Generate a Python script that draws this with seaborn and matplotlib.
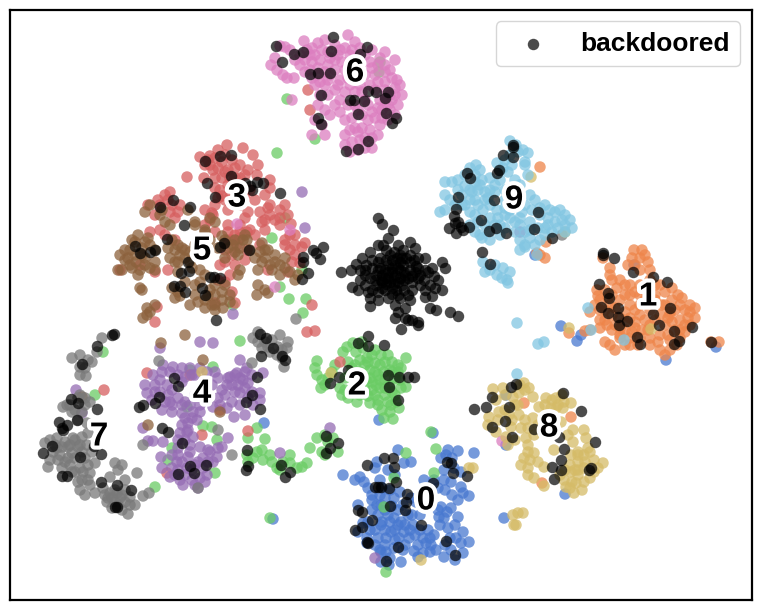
import pandas as pd
import matplotlib
matplotlib.use('Agg')
import matplotlib.pyplot as plt
import matplotlib.patheffects as pe
import seaborn as sns

# embedding coordinates, one list per class
pts_0 = [(448,450),(458,451),(441,458),(444,470),(454,468),(461,472),(474,453),(398,450),(411,462),(404,463),(424,480),(434,480),(451,482),(461,487),(463,493),(469,496),(441,507),(451,508),(458,517),(439,517),(448,528),(434,535),(463,532),(469,542),(461,543),(463,553),(444,557),(436,550),(423,553),(414,551),(423,538),(431,545),(413,525),(404,532),(399,538),(394,548),(401,562),(389,565),(381,562),(381,552),(386,538),(394,518),(403,505),(411,498),(394,498),(388,515),(381,525),(381,505),(444,518),(456,538),(451,550),(416,502),(401,522),(408,515),(409,538),(391,532),(386,552),(426,543),(360,477),(355,480),(368,488),(377,505),(358,505),(368,522),(363,523),(382,522),(380,550),(375,468),(377,462),(382,488),(358,532),(367,538),(367,543),(372,510),(390,490),(395,530),(375,530),(264,423),(343,475),(273,519),(379,420),(504,518),(506,395),(506,445),(565,494),(433,433),(561,326),(581,335),(577,341),(666,360),(716,347),(634,265),(535,255),
    (385,510),(390,522),(398,510),(398,525),(405,525),(412,515),(385,530),(378,515),(372,500),(385,498),(400,492),(380,480),(372,495),(370,530),(395,540),(405,545),(418,545),(430,538),(440,525),(455,525),(450,538),(445,545),(438,510),(447,512),(452,495),(445,490),(438,488),(428,530),(420,515),(415,535),(403,550),(390,558),(375,545),(385,545),(455,560),(430,552),(444,480),(452,458),(446,455),(418,557),(458,500),(392,506),(378,538),(420,530),(410,530),(395,475),(388,470),(364,482),(380,495)]
pts_1 = [(634,250),(640,258),(645,255),(648,262),(635,265),(628,265),(650,270),(610,268),(597,290),(600,300),(605,310),(612,280),(610,275),(617,288),(620,280),(625,295),(630,285),(640,285),(650,280),(655,285),(660,285),(672,288),(665,292),(678,295),(680,305),(685,310),(690,312),(695,318),(655,300),(650,310),(640,305),(630,305),(620,300),(608,298),(595,305),(590,312),(600,320),(612,315),(620,318),(630,318),(640,315),(625,330),(630,338),(638,345),(625,345),(610,345),(615,350),(605,342),(655,320),(665,325),(660,335),(670,340),(660,350),(665,355),(650,345),(675,330),(680,320),(690,325),(685,332),(670,312),(677,345),(670,315),(648,330),(642,330),(635,328),(620,328),(600,328),(590,330),(607,325),(630,295),(640,295),(615,308),(662,305),(672,300),(695,308),(719,342),(711,342),(569,333),(585,331),(603,258),(540,167),(546,242),(540,255),(545,258),(537,253),(542,483),(571,417),(524,403),
    (605,290),(612,295),(625,285),(635,292),(645,290),(645,300),(635,310),(625,312),(610,305),(600,310),(605,320),(615,325),(625,322),(635,322),(645,320),(650,325),(660,315),(668,318),(675,310),(682,298),(688,318),(680,330),(672,322),(668,335),(658,342),(632,332),(640,338),(630,345),(620,338),(612,330),(598,296),(640,270),(632,258),(642,250),(655,295),(665,305),(685,325),(670,350),(620,335),(650,338),(680,338),(690,305)]
pts_2 = [(347,347),(353,343),(343,352),(363,348),(367,358),(375,363),(317,361),(315,368),(317,375),(322,380),(321,388),(325,385),(342,395),(348,398),(357,402),(370,403),(378,405),(381,355),(388,355),(398,365),(406,358),(401,368),(384,372),(401,388),(399,408),(393,419),(384,418),(391,405),(406,387),(360,360),(370,370),(380,380),(390,385),(385,395),(375,395),(365,390),(360,385),(350,375),(355,365),(375,350),(392,372),(380,365),(372,382),(395,395),(248,438),(247,455),(248,462),(257,452),(263,460),(272,462),(277,468),(283,462),(290,463),(297,468),(302,467),(307,463),(265,439),(257,428),(310,448),(317,438),(322,452),(328,442),(338,452),(325,435),(333,438),(325,455),(253,458),(240,341),(103,352),(95,395),(203,426),(212,427),(217,440),(172,448),(168,460),(215,473),(155,487),(190,370),(213,367),(187,407),(270,518),(277,153),(272,238),(302,270),(280,287),(289,299),(306,299),(285,218),(233,305),(303,313),(431,432),(406,453),(436,449),(434,473),(394,478),(384,507),(386,572),(287,99),(315,139),(380,62),(379,72),
    (372,355),(365,365),(375,372),(385,362),(392,362),(370,378),(378,375),(385,380),(395,378),(400,380),(380,388),(372,390),(385,388),(392,392),(378,400),(368,396),(388,402),(382,410),(390,412),(396,402),(360,372),(352,368),(345,378),(340,388),(345,390),(352,392),(360,395),(368,362),(356,352),(362,342),(348,362),(335,365),(328,378),(332,372),(390,370),(398,372),(376,385),(366,380),(270,455),(280,470),(290,455),(262,450)]
pts_3 = [(227,145),(243,148),(210,156),(218,150),(200,157),(205,165),(213,170),(222,162),(232,160),(240,165),(253,155),(258,165),(248,170),(225,172),(215,178),(235,178),(245,175),(220,190),(228,185),(240,188),(225,200),(215,205),(187,177),(204,178),(257,175),(270,180),(270,188),(265,195),(250,190),(255,200),(270,205),(285,205),(268,208),(288,215),(280,218),(275,220),(291,224),(285,245),(302,247),(295,255),(305,243),(295,235),(290,235),(262,222),(265,220),(245,218),(240,225),(228,225),(213,215),(205,210),(210,220),(215,232),(165,195),(158,200),(148,205),(170,192),(170,212),(175,218),(180,205),(160,230),(165,235),(205,225),(212,213),(255,235),(247,232),(237,245),(240,238),(250,230),(265,230),(260,245),(247,250),(245,260),(235,265),(225,250),(220,265),(228,240),(285,240),(292,262),(288,272),(300,263),(268,270),(218,280),(230,275),(225,282),(232,292),(120,270),(140,265),(155,272),(150,232),(175,240),(157,307),(155,322),(315,331),(307,332),(235,303),(215,303),(312,305),(168,270),(147,373),(190,375),(202,435),(248,431),(167,473),(220,410),(308,90),(310,110),(340,362),(104,390),
    (208,160),(215,158),(225,155),(235,168),(228,170),(218,168),(210,165),(222,178),(230,178),(240,178),(215,188),(222,196),(230,192),(235,198),(218,198),(228,210),(240,205),(245,195),(160,205),(168,200),(155,215),(172,205),(178,212),(240,232),(232,240),(235,235),(228,232),(270,215),(260,212),(280,210),(295,245),(290,250),(280,225),(225,262),(232,255),(248,212)]
pts_4 = [(163,365),(173,367),(182,368),(200,368),(207,372),(218,378),(212,385),(153,375),(160,380),(167,385),(145,385),(147,393),(152,400),(162,410),(170,402),(172,412),(182,413),(193,412),(200,412),(197,420),(188,423),(185,402),(182,382),(185,377),(227,385),(230,377),(237,373),(247,368),(248,383),(243,380),(240,393),(260,393),(260,400),(253,405),(245,415),(234,417),(227,408),(218,398),(213,407),(263,373),(240,360),(200,342),(213,343),(233,314),(160,348),(148,441),(153,441),(163,442),(143,428),(180,433),(187,432),(193,437),(190,445),(200,447),(208,450),(217,457),(218,448),(228,438),(188,457),(177,462),(172,468),(170,477),(180,480),(192,480),(183,485),(207,475),(203,468),(203,458),(213,462),(162,468),(161,457),(198,488),(187,468),(222,447),(280,453),(330,428),(82,413),(76,390),(375,558),(302,192),(305,228),(235,375),(192,375),(172,390),(195,395),(225,395),(238,385),(520,232),(178,455),(195,465),
    (170,372),(178,375),(190,368),(195,375),(205,380),(215,372),(162,372),(155,385),(160,392),(168,395),(178,398),(172,405),(165,402),(155,392),(232,385),(240,378),(245,372),(235,392),(228,378),(245,388),(252,392),(248,398),(240,405),(232,402),(222,390),(252,375),(185,418),(192,418),(188,430),(182,425),(178,440),(185,440),(190,452),(178,448),(172,455),(182,462),(178,470),(185,475),(192,470),(200,478),(175,475),(198,462),(208,462),(205,482),(195,485),(210,452),(182,405),(190,405),(200,405),(205,390),(220,405)]
pts_5 = [(150,205),(145,212),(162,210),(132,240),(138,235),(148,238),(150,245),(142,248),(130,250),(120,255),(125,260),(135,255),(145,258),(155,250),(122,270),(130,265),(140,270),(155,270),(145,265),(118,270),(172,240),(175,250),(180,255),(170,258),(185,250),(195,245),(205,232),(170,225),(195,225),(205,230),(225,240),(233,245),(243,240),(215,222),(218,248),(225,258),(235,252),(245,235),(247,240),(255,258),(265,250),(262,243),(275,255),(280,265),(272,270),(285,268),(295,280),(298,275),(190,262),(178,272),(185,282),(195,285),(172,288),(178,292),(180,296),(140,288),(142,290),(178,262),(200,270),(205,275),(210,290),(215,295),(225,285),(230,295),(238,275),(240,270),(257,295),(258,285),(265,290),(268,293),(205,300),(195,295),(190,305),(175,298),(212,305),(222,300),(230,302),(150,312),(147,308),(143,318),(155,305),(147,315),(223,308),(215,305),(165,222),(160,215),(188,210),(210,218),(195,222),(238,255),(250,250),(161,343),(185,335),(203,360),(148,425),(220,412),(82,397),
    (128,258),(136,262),(142,255),(125,250),(135,242),(145,242),(155,262),(150,268),(132,268),(138,275),(175,262),(182,248),(190,252),(178,245),(168,248),(185,258),(192,268),(200,282),(208,296),(215,285),(222,292),(215,310),(205,308),(198,302),(265,258),(270,265),(262,262),(258,270),(275,262),(285,258),(290,272),(280,275),(268,250),(260,252),(235,240),(228,248),(240,248),(210,240),(222,236)]
pts_6 = [(271,65),(275,58),(280,46),(285,47),(290,50),(277,70),(283,75),(287,78),(294,78),(304,41),(300,55),(305,60),(310,55),(318,43),(325,40),(335,45),(348,35),(355,42),(360,48),(365,55),(372,50),(380,58),(385,65),(390,70),(397,80),(400,85),(402,95),(398,105),(395,115),(388,120),(380,125),(370,130),(360,140),(350,152),(358,150),(345,135),(350,130),(365,148),(372,148),(378,135),(362,128),(372,112),(365,100),(355,105),(340,100),(335,90),(325,85),(318,75),(310,70),(305,72),(315,85),(320,95),(325,110),(330,115),(340,112),(345,120),(322,125),(325,135),(315,120),(312,135),(318,105),(328,65),(335,60),(345,70),(350,55),(340,50),(328,52),(320,60),(312,62),(300,65),(295,60),(375,75),(385,82),(390,95),(380,100),(375,90),(365,75),(360,85),(350,85),(340,80),(330,75),(345,92),(395,60),(385,52),(392,100),(382,110),(362,115),(352,118),(370,62),(360,65),(292,100),(237,224),(290,230),(275,287),(502,441),
    (315,55),(322,50),(330,58),(338,55),(345,48),(352,50),(358,58),(318,68),(325,72),(335,70),(342,62),(350,62),(312,78),(320,82),(328,80),(338,85),(348,78),(355,92),(362,92),(370,85),(378,82),(385,72),(392,78),(395,88),(385,90),(395,95),(372,68),(378,65),(368,105),(378,108),(388,105),(385,100),(375,118),(368,120),(358,110),(348,105),(335,105),(328,95),(355,128),(365,138),(372,138),(352,142),(358,132),(345,145),(382,118),(390,110),(312,48),(307,50)]
pts_7 = [(102,338),(97,352),(72,358),(80,355),(88,360),(80,367),(80,375),(86,376),(92,362),(85,368),(67,405),(78,398),(85,405),(90,402),(72,412),(78,420),(87,423),(63,407),(45,443),(50,440),(57,438),(65,442),(73,438),(82,437),(88,433),(53,452),(50,460),(58,460),(65,462),(72,453),(78,447),(87,445),(92,452),(48,467),(70,465),(80,468),(88,465),(95,463),(83,472),(90,473),(75,472),(62,447),(68,447),(57,448),(115,463),(122,465),(118,470),(110,477),(137,473),(82,480),(90,485),(80,490),(85,495),(95,493),(103,488),(125,480),(110,493),(107,502),(115,502),(122,495),(125,502),(135,505),(128,514),(112,508),(143,496),(149,493),(130,497),(117,493),(258,332),(253,338),(265,342),(280,335),(288,342),(287,348),(278,347),(270,352),(284,367),(262,348),(282,358),(277,355),(159,361),(252,363),(218,430),(232,455),(143,445),(198,488),(562,235),(296,319),
    (70,445),(60,455),(68,458),(75,458),(82,452),(85,458),(62,468),(72,472),(55,445),(80,445),(75,440),(70,405),(75,410),(82,412),(80,395),(85,398),(120,498),(112,498),(118,505),(125,490),(108,498),(115,490),(130,505),(122,510),(105,495),(258,342),(268,347),(272,340),(282,350),(88,480),(78,482)]
pts_8 = [(493,389),(503,388),(524,383),(529,388),(533,397),(519,393),(513,397),(518,405),(496,400),(489,417),(499,412),(488,425),(496,432),(509,415),(519,415),(511,427),(521,428),(506,437),(526,438),(528,445),(533,418),(534,435),(539,407),(546,398),(556,398),(564,402),(571,403),(551,408),(563,408),(573,430),(568,435),(573,442),(584,430),(586,438),(588,448),(554,450),(534,453),(524,458),(521,465),(528,468),(528,475),(534,478),(538,462),(544,467),(564,480),(571,472),(578,462),(584,455),(594,460),(603,463),(594,472),(584,482),(578,475),(576,483),(574,493),(566,487),(584,468),(571,455),(578,452),(518,513),(523,513),(513,515),(514,525),(516,525),(473,468),(469,468),(421,560),(544,486),(561,422),(531,177),(565,232),(651,329),(569,328),(331,373),(202,372),
    (552,400),(558,405),(545,405),(525,390),(520,385),(505,395),(498,420),(505,410),(512,420),(525,420),(528,428),(538,425),(508,445),(515,440),(530,460),(528,452),(590,452),(585,462),(598,468),(590,478),(578,470),(570,465),(565,470),(572,482),(582,490),(570,488),(560,475),(578,455),(556,408),(515,405),(562,395),(575,470)]
pts_9 = [(510,141),(516,145),(523,150),(528,153),(525,162),(510,155),(505,160),(497,163),(500,170),(525,165),(508,172),(503,168),(476,165),(480,170),(470,168),(465,175),(445,182),(452,182),(458,180),(465,186),(475,175),(480,185),(490,178),(495,185),(500,180),(505,190),(515,180),(528,175),(472,192),(462,195),(445,195),(450,200),(455,205),(440,212),(445,210),(465,205),(475,200),(485,200),(490,190),(483,210),(475,215),(497,210),(490,205),(505,215),(510,218),(530,195),(535,200),(545,205),(550,210),(540,215),(530,222),(522,212),(515,205),(555,212),(565,215),(570,220),(565,225),(560,210),(555,222),(548,218),(572,228),(565,232),(552,232),(545,235),(540,240),(530,238),(520,225),(515,232),(505,228),(475,232),(470,225),(480,235),(490,240),(500,235),(520,240),(535,245),(525,245),(495,225),(485,225),(515,195),(505,200),(483,262),(490,270),(495,265),(503,268),(497,275),(485,272),(502,278),(510,272),(508,283),(507,280),(520,250),(525,247),(537,255),(517,323),(538,344),(544,342),(517,374),(591,330),(588,308),(624,340),
    (470,190),(478,190),(485,192),(482,180),(495,192),(488,198),(478,205),(470,200),(462,205),(470,212),(478,222),(490,218),(498,218),(505,208),(510,210),(525,205),(532,210),(520,218),(540,208),(548,225),(558,228),(538,228),(530,230),(525,232),(545,228),(562,220),(490,230),(482,238),(500,225),(515,222),(512,190),(520,185),(518,152),(512,165),(475,182),(458,190)]

backdoored = [(276,46),(294,54),(303,52),(331,51),(333,37),(367,47),(360,54),(282,62),(310,74),(318,73),(330,73),(321,95),(354,100),(350,100),(364,101),(376,92),(368,91),(358,114),(318,118),(321,124),(346,151),(358,149),(368,141),(388,92),(385,98),(386,113),(396,118),(392,123),
    (205,161),(220,156),(231,155),(231,176),(207,183),(245,183),(250,186),(257,182),(263,183),(252,190),(215,197),(280,193),(173,200),(190,207),(160,207),(184,225),(167,239),(135,246),(155,250),(140,253),(150,252),(220,247),(224,243),(249,250),(188,262),(181,273),(189,271),(214,277),(220,278),(210,277),(174,286),(180,286),(185,292),(202,288),(205,295),(303,257),(313,250),(323,247),(316,253),(320,259),(303,262),(308,273),(302,279),(216,320),
    (378,218),(382,224),(393,230),(388,238),(378,245),(383,245),(398,245),(403,250),(410,242),(415,248),(400,255),(390,255),(380,258),(370,252),(362,258),(356,264),(351,270),(360,270),(365,275),(372,268),(380,268),(388,265),(395,265),(403,265),(410,262),(418,258),(425,258),(432,268),(442,262),(425,270),(415,272),(405,275),(395,275),(385,278),(375,280),(365,285),(352,287),(358,290),(372,290),(382,288),(392,288),(402,285),(412,282),(420,285),(430,285),(438,280),(445,268),(408,295),(398,295),(388,298),(378,300),(370,298),(395,305),(405,308),(398,312),(405,318),(412,320),(418,322),(395,318),(430,308),(450,312),(458,316),(432,296),(442,290),(410,300),(425,297),(400,270),(392,272),(398,282),(404,280),(390,282),(410,270),(388,272),(382,275),(378,270),(412,276),(400,262),(392,260),(386,284),(394,284),(376,275),(420,275),(386,260),(406,258),(397,258),(416,266),(404,290),(396,290),(366,265),(434,276),(370,306),(381,280),(401,329),(418,325),(408,320),(436,310),(341,272),
    (385,270),(392,268),(398,268),(404,272),(408,278),(400,278),(394,278),(388,278),(382,282),(376,285),(370,278),(385,290),(392,294),(400,298),(412,290),(418,278),(424,280),(428,272),(418,268),(410,255),(402,258),(394,252),(386,250),(378,262),(372,260),(365,270),(360,280),(368,292),(378,292),(414,260),(425,290),(435,288),
    (513,145),(513,147),(503,155),(513,157),(467,173),(470,178),(497,173),(499,170),(458,197),(494,200),(456,209),(538,212),(481,220),(496,228),(489,231),(506,233),(534,229),(552,238),(482,252),(490,264),(454,216),(458,222),(449,228),(456,233),(463,230),(469,227),(461,227),(455,223),
    (603,253),(603,255),(614,258),(633,272),(653,277),(667,282),(599,284),(608,293),(609,298),(601,307),(608,313),(618,308),(618,317),(627,321),(619,325),(653,314),(670,308),(659,325),(674,331),(692,327),(637,337),(640,344),(679,341),(674,344),(711,342),
    (358,343),(368,346),(368,336),(348,370),(339,377),(330,383),(367,465),(384,345),(388,375),(399,377),(408,377),(414,377),(389,387),(398,400),(247,450),(248,466),(246,470),(281,465),(290,472),(285,477),(326,436),(338,443),(330,448),(326,453),
    (174,378),(178,386),(159,397),(155,403),(143,405),(139,407),(252,395),(246,402),(260,409),(257,377),(162,428),(168,432),(182,443),(190,466),(194,473),(206,465),(178,474),
    (114,334),(112,335),(97,346),(82,364),(71,399),(78,403),(97,409),(77,420),(59,422),(67,425),(62,428),(63,430),(52,446),(43,453),(94,446),(101,454),(80,457),(62,476),(67,476),(101,482),(117,485),(131,490),(117,507),(115,507),(260,334),(266,338),(273,348),(261,356),(282,356),(285,360),
    (375,487),(378,487),(358,510),(362,512),(372,520),(362,527),(355,530),(367,542),(368,543),(384,458),(393,458),(394,467),(381,487),(389,488),(396,482),(407,494),(406,502),(390,506),(405,510),(421,525),(398,547),(386,561),(446,541),(455,555),(433,483),(453,473),(467,476),(447,462),(451,463),
    (516,384),(511,387),(563,393),(492,397),(486,407),(474,409),(509,407),(581,411),(505,421),(492,427),(534,429),(512,437),(559,437),(595,442),(564,449),(561,460),(552,467),(561,470),(591,468),(589,470),(554,479)]

classes = [str(i) for i in range(10)]
all_pts = [pts_0, pts_1, pts_2, pts_3, pts_4, pts_5, pts_6, pts_7, pts_8, pts_9]
label_xy = {'0': (426,501), '1': (648,297), '2': (357,386), '3': (237,198), '4': (202,394),
            '5': (202,251), '6': (355,73), '7': (99,437), '8': (549,428), '9': (514,200)}

rows = []
for c, pts in zip(classes, all_pts):
    for x, y in pts:
        rows.append({'x': x, 'y': y, 'label': c})
df = pd.DataFrame(rows)
df_back = pd.DataFrame(backdoored, columns=['x', 'y'])

sns.set_style('white')
plt.rcParams['font.family'] = ['Liberation Sans', 'DejaVu Sans']
plt.rcParams['text.color'] = 'black'

fig = plt.figure(figsize=(7.62, 6.10), dpi=100)
ax = fig.add_axes([9.5/762, 1 - 600/610, (752 - 9.5)/762, (600 - 9.5)/610])

sns.scatterplot(data=df, x='x', y='y', hue='label', hue_order=classes, palette='muted',
                s=68, alpha=0.75, linewidth=0, legend=False, ax=ax)
sns.scatterplot(data=df_back, x='x', y='y', color='black', s=68, alpha=0.7, linewidth=0,
                label='backdoored', ax=ax)

# class number in the middle of each cluster
for c in classes:
    ax.text(label_xy[c][0], label_xy[c][1], c, fontsize=24, fontweight='bold', color='black',
            ha='center', va='center', path_effects=[pe.withStroke(linewidth=6, foreground='white')])

ax.set_xlim(9.5, 752)
ax.set_ylim(600, 9.5)
ax.set_xticks([])
ax.set_yticks([])
ax.set_xlabel('')
ax.set_ylabel('')
for s in ax.spines.values():
    s.set_color('black')
    s.set_linewidth(1.6)

ax.legend(loc='upper right', prop={'size': 19, 'weight': 'bold'}, borderaxespad=0.45)

plt.savefig('out.png', dpi=100)
